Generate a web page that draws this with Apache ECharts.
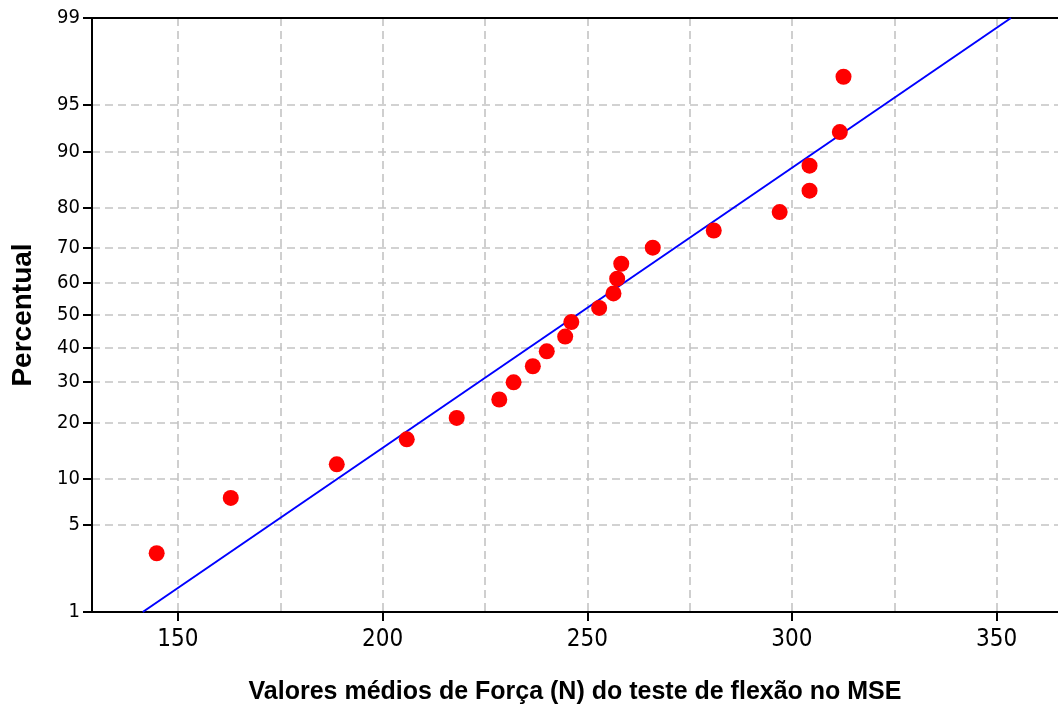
<!DOCTYPE html>
<html>
<head>
<meta charset="utf-8">
<script src="https://cdn.jsdelivr.net/npm/echarts@6/dist/echarts.min.js"></script>
<style>
  html, body { margin: 0; padding: 0; background: #ffffff; }
  #chart { width: 1058px; height: 706px; }
</style>
</head>
<body>
<div id="chart"></div>
<script>
// Mean bending-test force values (N) and their plotting percentiles
const forceValues = [144.8, 162.9, 188.8, 205.9, 218.1, 228.5, 232.0, 236.7, 240.1, 244.6, 246.1,
                     252.9, 256.4, 257.3, 258.3, 266.0, 280.9, 297.0, 304.3, 304.3, 311.7, 312.6];
const percentValues = [3.1, 7.6, 12.1, 16.5, 21.0, 25.4, 29.9, 34.4, 38.8, 43.3, 47.8,
                       52.2, 56.7, 61.2, 65.6, 70.1, 74.6, 79.0, 83.5, 87.9, 92.4, 96.9];

// Fitted normal distribution line (end points: force, percent)
const fitForce = [141.4, 353.5];
const fitPercent = [1, 99];

// Axis ticks
const yTickPercents = [1, 5, 10, 20, 30, 40, 50, 60, 70, 80, 90, 95, 99];
const xLabelTicks = [150, 200, 250, 300, 350];
const xGridTicks = [150, 175, 200, 225, 250, 275, 300, 325, 350];

// Inverse standard normal CDF (Acklam's rational approximation)
function probit(p) {
  const a = [-3.969683028665376e+01, 2.209460984245205e+02, -2.759285104469687e+02,
             1.383577518672690e+02, -3.066479806614716e+01, 2.506628277459239e+00];
  const b = [-5.447609879822406e+01, 1.615858368580409e+02, -1.556989798598866e+02,
             6.680131188771972e+01, -1.328068155288572e+01];
  const c = [-7.784894002430293e-03, -3.223964580411365e-01, -2.400758277161838e+00,
             -2.549732539343734e+00, 4.374664141464968e+00, 2.938163982698783e+00];
  const d = [7.784695709041462e-03, 3.224671290700398e-01, 2.445134137142996e+00,
             3.754408661907416e+00];
  const pl = 0.02425, ph = 1 - pl;
  let q, r;
  if (p < pl) {
    q = Math.sqrt(-2 * Math.log(p));
    return (((((c[0]*q+c[1])*q+c[2])*q+c[3])*q+c[4])*q+c[5]) /
           ((((d[0]*q+d[1])*q+d[2])*q+d[3])*q+1);
  } else if (p <= ph) {
    q = p - 0.5; r = q * q;
    return (((((a[0]*r+a[1])*r+a[2])*r+a[3])*r+a[4])*r+a[5])*q /
           (((((b[0]*r+b[1])*r+b[2])*r+b[3])*r+b[4])*r+1);
  } else {
    q = Math.sqrt(-2 * Math.log(1 - p));
    return -(((((c[0]*q+c[1])*q+c[2])*q+c[3])*q+c[4])*q+c[5]) /
            ((((d[0]*q+d[1])*q+d[2])*q+d[3])*q+1);
  }
}
const toZ = pct => probit(pct / 100);

const yTickZ = yTickPercents.map(toZ);
const scatterData = forceValues.map((f, i) => [f, toZ(percentValues[i])]);
const fitData = fitForce.map((f, i) => [f, toZ(fitPercent[i])]);

const gridDash = { color: '#c4c4c4', width: 1.6, type: [8, 5] };
const labelFont = "'DejaVu Sans Condensed', 'DejaVu Sans', sans-serif";
const titleFont = "'Liberation Sans', Arial, sans-serif";

const chart = echarts.init(document.getElementById('chart'));
chart.setOption({
  animation: false,
  backgroundColor: '#ffffff',
  grid: { left: 92, top: 18, right: 0, bottom: 94, containLabel: false, outerBoundsMode: 'none' },
  xAxis: [
    {
      type: 'value',
      position: 'bottom',
      min: 129, max: 365,
      name: 'Valores médios de Força (N) do teste de flexão no MSE',
      nameLocation: 'middle',
      nameGap: 68,
      nameTextStyle: { fontFamily: titleFont, fontWeight: 'bold', fontSize: 25, color: '#000' },
      axisLine: { show: true, onZero: false, lineStyle: { color: '#000', width: 2 } },
      axisTick: { show: true, customValues: xLabelTicks, length: 9, lineStyle: { color: '#000', width: 2 } },
      axisLabel: { customValues: xLabelTicks, margin: 16, fontFamily: labelFont, fontSize: 24, color: '#000' },
      splitLine: { show: false }
    },
    {
      type: 'value',
      position: 'top',
      min: 129, max: 365,
      axisLine: { show: true, onZero: false, lineStyle: { color: '#000', width: 2 } },
      axisTick: { show: false, customValues: xGridTicks },
      axisLabel: { show: false },
      splitLine: { show: true, lineStyle: gridDash }
    }
  ],
  yAxis: {
    type: 'value',
    min: yTickZ[0],
    max: yTickZ[yTickZ.length - 1],
    name: 'Percentual',
    nameLocation: 'middle',
    nameGap: 55,
    nameRotate: 90,
    nameTextStyle: { fontFamily: titleFont, fontWeight: 'bold', fontSize: 28, color: '#000' },
    axisLine: { show: true, onZero: false, lineStyle: { color: '#000', width: 2 } },
    axisTick: { show: true, customValues: yTickZ, length: 9, lineStyle: { color: '#000', width: 2 } },
    axisLabel: {
      customValues: yTickZ,
      margin: 12,
      fontFamily: labelFont,
      fontSize: 20,
      color: '#000',
      formatter: v => {
        const i = yTickZ.findIndex(z => Math.abs(z - v) < 1e-9);
        return i >= 0 ? String(yTickPercents[i]) : '';
      }
    },
    splitLine: { show: true, lineStyle: gridDash }
  },
  series: [
    {
      type: 'line',
      data: fitData,
      showSymbol: false,
      symbol: 'none',
      lineStyle: { color: '#0000ff', width: 2 },
      z: 3
    },
    {
      type: 'scatter',
      data: scatterData,
      symbol: 'circle',
      symbolSize: 16,
      itemStyle: { color: '#ff0000', opacity: 1 },
      z: 4
    }
  ]
});
</script>
</body>
</html>
